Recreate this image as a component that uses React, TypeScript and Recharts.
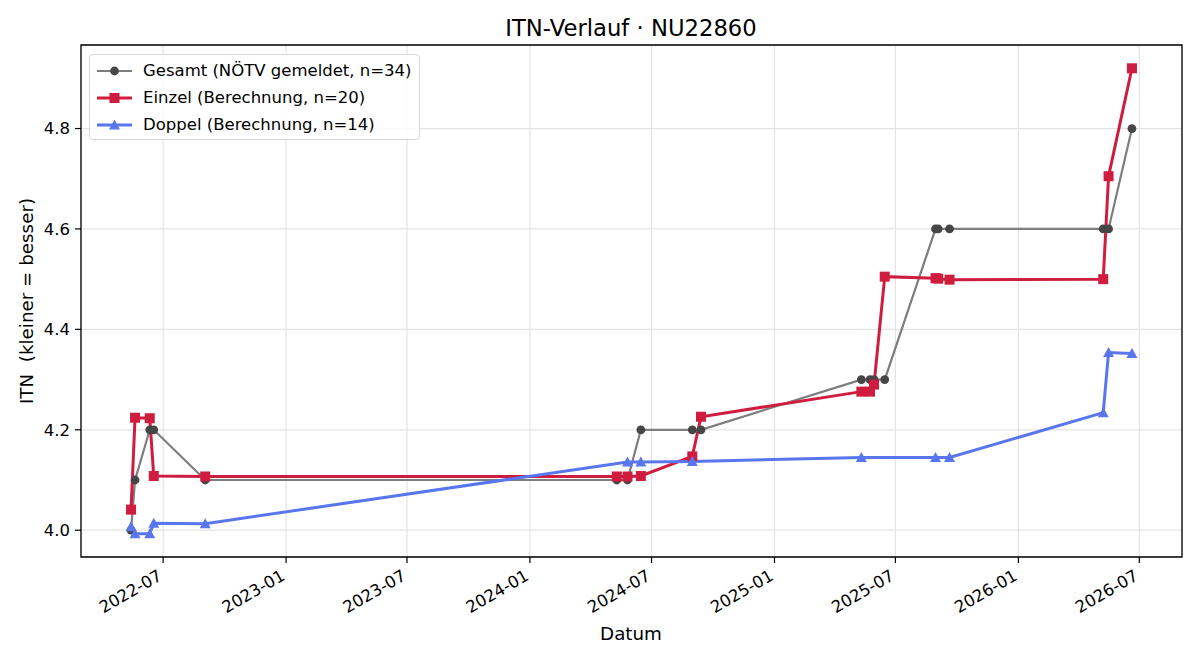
import React from 'react';
import { LineChart, Line, XAxis, YAxis, CartesianGrid, ReferenceArea } from 'recharts';

// Gesamt (NÖTV gemeldet) – one point per match date
const gesamtDates = [
  '2022-05-14', '2022-05-20', '2022-06-11', '2022-06-17', '2022-09-02',
  '2024-05-10', '2024-05-26', '2024-06-15', '2024-08-31', '2024-09-13',
  '2025-05-11', '2025-05-24', '2025-05-30', '2025-06-15', '2025-08-30',
  '2025-09-03', '2025-09-20', '2026-05-08', '2026-05-16', '2026-06-20',
];
const gesamtValues = [
  4.0, 4.1, 4.2, 4.2, 4.1,
  4.1, 4.1, 4.2, 4.2, 4.2,
  4.3, 4.3, 4.3, 4.3, 4.6,
  4.6, 4.6, 4.6, 4.6, 4.8,
];

const einzelDates = [
  '2022-05-14', '2022-05-20', '2022-06-11', '2022-06-17', '2022-09-02',
  '2024-05-10', '2024-05-26', '2024-06-15', '2024-08-31', '2024-09-13',
  '2025-05-11', '2025-05-24', '2025-05-30', '2025-06-15', '2025-08-30',
  '2025-09-03', '2025-09-20', '2026-05-08', '2026-05-16', '2026-06-20',
];
const einzelValues = [
  4.041, 4.224, 4.223, 4.108, 4.107,
  4.107, 4.107, 4.108, 4.147, 4.226,
  4.276, 4.276, 4.29, 4.505, 4.502,
  4.501, 4.499, 4.5, 4.705, 4.92,
];

const doppelDates = [
  '2022-05-14', '2022-05-20', '2022-06-11', '2022-06-17', '2022-09-02',
  '2024-05-26', '2024-06-15', '2024-08-31', '2025-05-11', '2025-08-30',
  '2025-09-20', '2026-05-08', '2026-05-16', '2026-06-20',
];
const doppelValues = [
  4.007, 3.993, 3.993, 4.014, 4.013,
  4.136, 4.136, 4.137, 4.145, 4.145,
  4.145, 4.234, 4.354, 4.352,
];

const xTickLabels = [
  '2022-07', '2023-01', '2023-07', '2024-01', '2024-07',
  '2025-01', '2025-07', '2026-01', '2026-07',
];
const yTicks = [4.0, 4.2, 4.4, 4.6, 4.8];

const FONT = '"DejaVu Sans", sans-serif';
const GRAY_LINE = '#7d7d7d';
const GRAY_DOT = '#464646';
const RED = '#cf1d3f';
const BLUE = '#5877ee';

const toRows = (dates: string[], values: number[]) =>
  dates.map((d, i) => ({ t: Date.parse(d), v: values[i] }));

const gesamt = toRows(gesamtDates, gesamtValues);
const einzel = toRows(einzelDates, einzelValues);
const doppel = toRows(doppelDates, doppelValues);
const xTicks = xTickLabels.map((l) => Date.parse(l + '-01'));

// matplotlib-like 5% padding around the data
const allT = [...gesamt, ...einzel, ...doppel].map((r) => r.t);
const allV = [...gesamt, ...einzel, ...doppel].map((r) => r.v);
const tSpan = Math.max(...allT) - Math.min(...allT);
const vSpan = Math.max(...allV) - Math.min(...allV);
const xMin = Math.min(...allT) - 0.05 * tSpan;
const xMax = Math.max(...allT) + 0.05 * tSpan;
const yMin = Math.min(...allV) - 0.05 * vSpan;
const yMax = Math.max(...allV) + 0.05 * vSpan;

// eslint-disable-next-line @typescript-eslint/no-explicit-any
const XTick = (props: any) => {
  const { x, y, payload } = props;
  const idx = xTicks.indexOf(payload.value);
  const label = idx >= 0 ? xTickLabels[idx] : '';
  const by = y + 14;
  return (
    <text
      x={x}
      y={by}
      textAnchor="end"
      transform={`rotate(-30, ${x}, ${by})`}
      fontSize={16.5}
      fontFamily={FONT}
      fill="#000"
    >
      {label}
    </text>
  );
};

// eslint-disable-next-line @typescript-eslint/no-explicit-any
const circleDot = (p: any) => (
  <circle key={`g${p.index}`} cx={p.cx} cy={p.cy} r={4.4} fill={GRAY_DOT} />
);
// eslint-disable-next-line @typescript-eslint/no-explicit-any
const squareDot = (p: any) => (
  <rect key={`e${p.index}`} x={p.cx - 5} y={p.cy - 5} width={10} height={10} fill={RED} />
);
// eslint-disable-next-line @typescript-eslint/no-explicit-any
const triangleDot = (p: any) => (
  <polygon
    key={`d${p.index}`}
    points={`${p.cx},${p.cy - 5.5} ${p.cx - 5.5},${p.cy + 4.5} ${p.cx + 5.5},${p.cy + 4.5}`}
    fill={BLUE}
  />
);

const legendItems = [
  { label: 'Gesamt (NÖTV gemeldet, n=34)', color: GRAY_LINE, marker: 'circle' },
  { label: 'Einzel (Berechnung, n=20)', color: RED, marker: 'square' },
  { label: 'Doppel (Berechnung, n=14)', color: BLUE, marker: 'triangle' },
];

function LegendBox() {
  return (
    <div
      style={{
        position: 'absolute', left: 89, top: 54, width: 329, height: 84,
        border: '1px solid #d6d6d6', borderRadius: 4, background: 'rgba(255,255,255,0.85)',
        fontFamily: FONT, fontSize: 16.5, color: '#000',
      }}
    >
      {legendItems.map((it, i) => (
        <div key={it.label} style={{ position: 'absolute', left: 0, top: 4 + i * 27, height: 24, width: 329 }}>
          <svg width={50} height={24} style={{ position: 'absolute', left: 0, top: 0 }}>
            <line x1={7} x2={42} y1={12} y2={12} stroke={it.color} strokeWidth={i === 0 ? 2.2 : 3} />
            {it.marker === 'circle' && <circle cx={24.5} cy={12} r={4.4} fill={GRAY_DOT} />}
            {it.marker === 'square' && <rect x={19.5} y={7} width={10} height={10} fill={RED} />}
            {it.marker === 'triangle' && <polygon points="24.5,6.5 19,16.5 30,16.5" fill={BLUE} />}
          </svg>
          <span style={{ position: 'absolute', left: 53, top: 2, whiteSpace: 'pre', lineHeight: '20px' }}>{it.label}</span>
        </div>
      ))}
    </div>
  );
}

export default function App() {
  return (
    <div style={{ position: 'absolute', left: 0, top: 0, width: 1200, height: 660, background: '#fff', fontFamily: FONT }}>
      <div
        style={{
          position: 'absolute', left: 631, top: 28, transform: 'translate(-50%, -50%)',
          fontSize: 22.7, whiteSpace: 'pre', color: '#000',
        }}
      >
        ITN-Verlauf · NU22860
      </div>
      <LineChart width={1200} height={660} margin={{ top: 45, right: 18, bottom: 33, left: 11 }}>
        <CartesianGrid stroke="#e4e4e4" strokeWidth={1.2} />
        <XAxis
          type="number"
          dataKey="t"
          domain={[xMin, xMax]}
          ticks={xTicks}
          interval={0}
          allowDataOverflow
          height={70}
          tickSize={6}
          axisLine={false}
          tickLine={{ stroke: '#000', strokeWidth: 1.2 }}
          tick={<XTick />}
        />
        <YAxis
          type="number"
          domain={[yMin, yMax]}
          ticks={yTicks}
          interval={0}
          allowDataOverflow
          width={70}
          tickSize={6}
          tickMargin={5}
          axisLine={false}
          tickLine={{ stroke: '#000', strokeWidth: 1.2 }}
          tickFormatter={(v: number) => v.toFixed(1)}
          tick={{ fill: '#000', fontSize: 16.5, fontFamily: FONT }}
        />
        <ReferenceArea
          x1={xMin}
          x2={xMax}
          y1={yMin}
          y2={yMax}
          fill="none"
          stroke="#000"
          strokeWidth={1.3}
          ifOverflow="visible"
        />
        <Line
          data={gesamt}
          dataKey="v"
          stroke={GRAY_LINE}
          strokeWidth={2.2}
          dot={circleDot}
          activeDot={false}
          isAnimationActive={false}
        />
        <Line
          data={einzel}
          dataKey="v"
          stroke={RED}
          strokeWidth={3}
          dot={squareDot}
          activeDot={false}
          isAnimationActive={false}
        />
        <Line
          data={doppel}
          dataKey="v"
          stroke={BLUE}
          strokeWidth={3}
          dot={triangleDot}
          activeDot={false}
          isAnimationActive={false}
        />
      </LineChart>
      <div
        style={{
          position: 'absolute', left: 26, top: 301, transform: 'translate(-50%, -50%) rotate(-90deg)',
          fontSize: 18.3, whiteSpace: 'pre', color: '#000',
        }}
      >
        ITN  (kleiner = besser)
      </div>
      <div
        style={{
          position: 'absolute', left: 631, top: 633, transform: 'translate(-50%, -50%)',
          fontSize: 18.3, whiteSpace: 'pre', color: '#000',
        }}
      >
        Datum
      </div>
      <LegendBox />
    </div>
  );
}
